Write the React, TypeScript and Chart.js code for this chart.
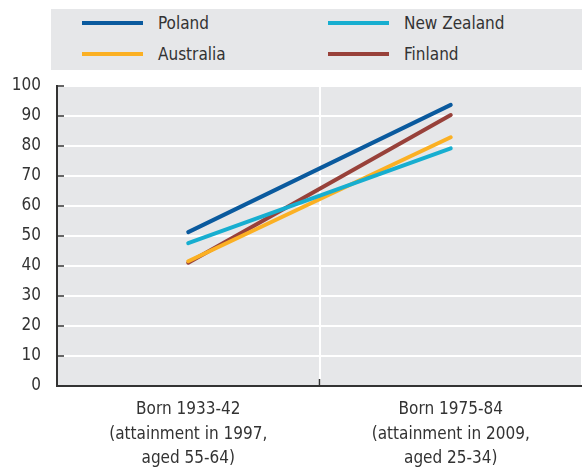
import React, { useEffect, useRef } from "react";
import { Chart, registerables } from "chart.js";

Chart.register(...registerables);

const categories: string[][] = [
  ["Born 1933-42", "(attainment in 1997,", "aged 55-64)"],
  ["Born 1975-84", "(attainment in 2009,", "aged 25-34)"],
];
const seriesNames = ["Poland", "New Zealand", "Australia", "Finland"];
const seriesColors = ["#0a5a9e", "#17aed0", "#fbb023", "#98413a"];
const poland = [51.3, 93.7];
const newZealand = [47.6, 79.2];
const australia = [41.6, 82.9];
const finland = [41.1, 90.3];
const seriesValues = [poland, newZealand, australia, finland];
const yTicks = [0, 10, 20, 30, 40, 50, 60, 70, 80, 90, 100];

const FONT = "'Liberation Sans Narrow', 'Arial Narrow', 'DejaVu Sans Condensed', sans-serif";
const TEXT = "#333333";
const PANEL = "#e6e7e9";

const bgPlugin = {
  id: "plotBg",
  beforeDraw(chart: any) {
    const { ctx, chartArea } = chart;
    ctx.save();
    ctx.fillStyle = PANEL;
    ctx.fillRect(chartArea.left, chartArea.top, chartArea.right - chartArea.left, chartArea.bottom - chartArea.top);
    ctx.restore();
  },
  afterDatasetsDraw(chart: any) {
    const { ctx, chartArea, scales } = chart;
    ctx.save();
    ctx.strokeStyle = "#333333";
    ctx.lineWidth = 1.5;
    yTicks.forEach((v) => {
      const y = scales.y.getPixelForValue(v);
      ctx.beginPath();
      ctx.moveTo(chartArea.left, y);
      ctx.lineTo(chartArea.left + 7, y);
      ctx.stroke();
    });
    const xb = (scales.x.getPixelForValue(0) + scales.x.getPixelForValue(1)) / 2;
    ctx.beginPath();
    ctx.moveTo(xb, chartArea.bottom);
    ctx.lineTo(xb, chartArea.bottom - 7);
    ctx.stroke();
    ctx.restore();
  },
};

export default function App() {
  const ref = useRef<HTMLCanvasElement>(null);
  useEffect(() => {
    document.body.style.margin = "0";
    const chart = new Chart(ref.current!, {
      type: "line",
      data: {
        labels: categories,
        datasets: seriesNames.map((name, i) => ({
          label: name,
          data: seriesValues[i],
          borderColor: seriesColors[i],
          backgroundColor: seriesColors[i],
          borderWidth: 4,
          borderCapStyle: "round",
          pointRadius: 0,
          tension: 0,
        })),
      },
      options: {
        animation: false,
        responsive: false,
        layout: { padding: { top: 86, right: 0, left: 0, bottom: 0 } },
        plugins: { legend: { display: false }, tooltip: { enabled: false } },
        scales: {
          x: {
            type: "category",
            offset: true,
            grid: { color: "#ffffff", lineWidth: 2, offset: true, drawTicks: false },
            border: { color: "#333333", width: 2 },
            ticks: { color: TEXT, font: { family: FONT, size: 17, lineHeight: 1.42 }, padding: 12, maxRotation: 0 },
            afterFit(scale: any) {
              scale.height = 82;
            },
          },
          y: {
            min: 0,
            max: 100,
            afterBuildTicks(scale: any) {
              scale.ticks = yTicks.map((v) => ({ value: v }));
            },
            grid: { color: "#ffffff", lineWidth: 2, drawTicks: false },
            border: { color: "#333333", width: 2 },
            ticks: { color: TEXT, font: { family: FONT, size: 17 }, padding: 16 },
            afterFit(scale: any) {
              scale.width = 57;
            },
          },
        },
      },
      plugins: [bgPlugin],
    } as any);
    return () => chart.destroy();
  }, []);

  const legendItem = (i: number, left: number, top: number) => (
    <div key={i} style={{ position: "absolute", left, top, display: "flex", alignItems: "center", height: 20 }}>
      <div style={{ width: 61, height: 4, background: seriesColors[i] }} />
      <span style={{ marginLeft: 15, fontFamily: FONT, fontSize: 17, color: TEXT, lineHeight: "20px" }}>{seriesNames[i]}</span>
    </div>
  );

  return (
    <div style={{ position: "absolute", left: 0, top: 0, width: 582, height: 468, background: "#fff" }}>
      <canvas ref={ref} width={582} height={468} style={{ position: "absolute", left: 0, top: 0 }} />
      <div style={{ position: "absolute", left: 51, top: 9, width: 531, height: 61, background: PANEL }}>
        {legendItem(0, 31, 4)}
        {legendItem(1, 277, 4)}
        {legendItem(2, 31, 35)}
        {legendItem(3, 277, 35)}
      </div>
    </div>
  );
}
